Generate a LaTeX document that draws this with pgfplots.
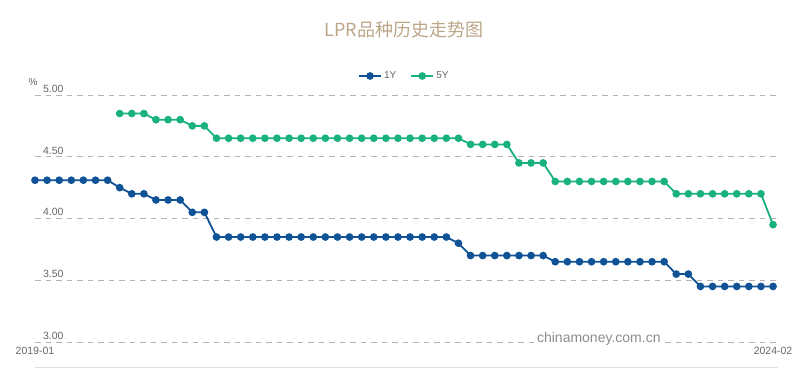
\documentclass[border=0pt]{standalone}
\usepackage{pgfplots}
\pgfplotsset{compat=1.18}
\usepackage{fontspec}
\setmainfont{Liberation Sans}
\newfontfamily\cjk{Noto Sans CJK SC}
\definecolor{oneY}{HTML}{0F5296}
\definecolor{fiveY}{HTML}{19B17E}
\definecolor{titlec}{HTML}{BBA688}
\definecolor{gridc}{HTML}{B4B4B4}
\definecolor{labc}{HTML}{666666}
\begin{document}
\begin{tikzpicture}
\useasboundingbox (0,0) rectangle (800pt,368pt);
\node[text=titlec, font=\cjk\fontsize{18}{20}\selectfont] at (404pt,338pt) {LPR品种历史走势图};
\node[text=labc, font=\fontsize{10}{12}\selectfont] at (33pt,286pt) {\%};
\draw[black!12, line width=1pt] (35pt,0.8pt) -- (778pt,0.8pt);
\begin{axis}[
  at={(35pt,26pt)}, anchor=south west,
  scale only axis, width=743pt, height=247pt,
  xmin=0, xmax=61.41, ymin=3, ymax=5,
  clip=false,
  axis line style={draw=none},
  major tick length=0pt,
  ytick={3,3.5,4,4.5,5},
  yticklabels={3.00,3.50,4.00,4.50,5.00},
  xtick={0,61}, xticklabels={2019-01,2024-02},
  ymajorgrids,
  grid style={gridc, line width=0.9pt, dash pattern=on 5.5pt off 5pt},
  /pgf/number format/assume math mode=true,
  tick label style={text=labc, font=\fontsize{10.5}{12}\selectfont},
  yticklabel style={anchor=south west, xshift=4.5pt, yshift=-1pt},
  xticklabel style={yshift=-2pt},
  legend style={at={(0.497,1.077)}, anchor=center, draw=none, fill=none,
    legend columns=2, font=\fontsize{10}{12}\selectfont, text=labc,
    /tikz/every even column/.append style={column sep=12pt}},
  legend image code/.code={\draw[mark repeat=2,mark phase=2,#1] plot coordinates {(0cm,0cm) (0.39cm,0cm) (0.78cm,0cm)};},
]
\addplot[oneY, line width=1.8pt, mark=*, mark size=2.9pt] table {
x y
0 4.31
1 4.31
2 4.31
3 4.31
4 4.31
5 4.31
6 4.31
7 4.25
8 4.20
9 4.20
10 4.15
11 4.15
12 4.15
13 4.05
14 4.05
15 3.85
16 3.85
17 3.85
18 3.85
19 3.85
20 3.85
21 3.85
22 3.85
23 3.85
24 3.85
25 3.85
26 3.85
27 3.85
28 3.85
29 3.85
30 3.85
31 3.85
32 3.85
33 3.85
34 3.85
35 3.80
36 3.70
37 3.70
38 3.70
39 3.70
40 3.70
41 3.70
42 3.70
43 3.65
44 3.65
45 3.65
46 3.65
47 3.65
48 3.65
49 3.65
50 3.65
51 3.65
52 3.65
53 3.55
54 3.55
55 3.45
56 3.45
57 3.45
58 3.45
59 3.45
60 3.45
61 3.45
};
\addlegendentry{1Y}
\addplot[fiveY, line width=1.8pt, mark=*, mark size=2.9pt] table {
x y
7 4.85
8 4.85
9 4.85
10 4.80
11 4.80
12 4.80
13 4.75
14 4.75
15 4.65
16 4.65
17 4.65
18 4.65
19 4.65
20 4.65
21 4.65
22 4.65
23 4.65
24 4.65
25 4.65
26 4.65
27 4.65
28 4.65
29 4.65
30 4.65
31 4.65
32 4.65
33 4.65
34 4.65
35 4.65
36 4.60
37 4.60
38 4.60
39 4.60
40 4.45
41 4.45
42 4.45
43 4.30
44 4.30
45 4.30
46 4.30
47 4.30
48 4.30
49 4.30
50 4.30
51 4.30
52 4.30
53 4.20
54 4.20
55 4.20
56 4.20
57 4.20
58 4.20
59 4.20
60 4.20
61 3.95
};
\addlegendentry{5Y}
\node[fill=white, inner sep=1pt, text=black!45, anchor=base, font=\fontsize{14}{16}\selectfont] at (axis cs:46.6,3.0) {chinamoney.com.cn};
\end{axis}
\end{tikzpicture}
\end{document}
